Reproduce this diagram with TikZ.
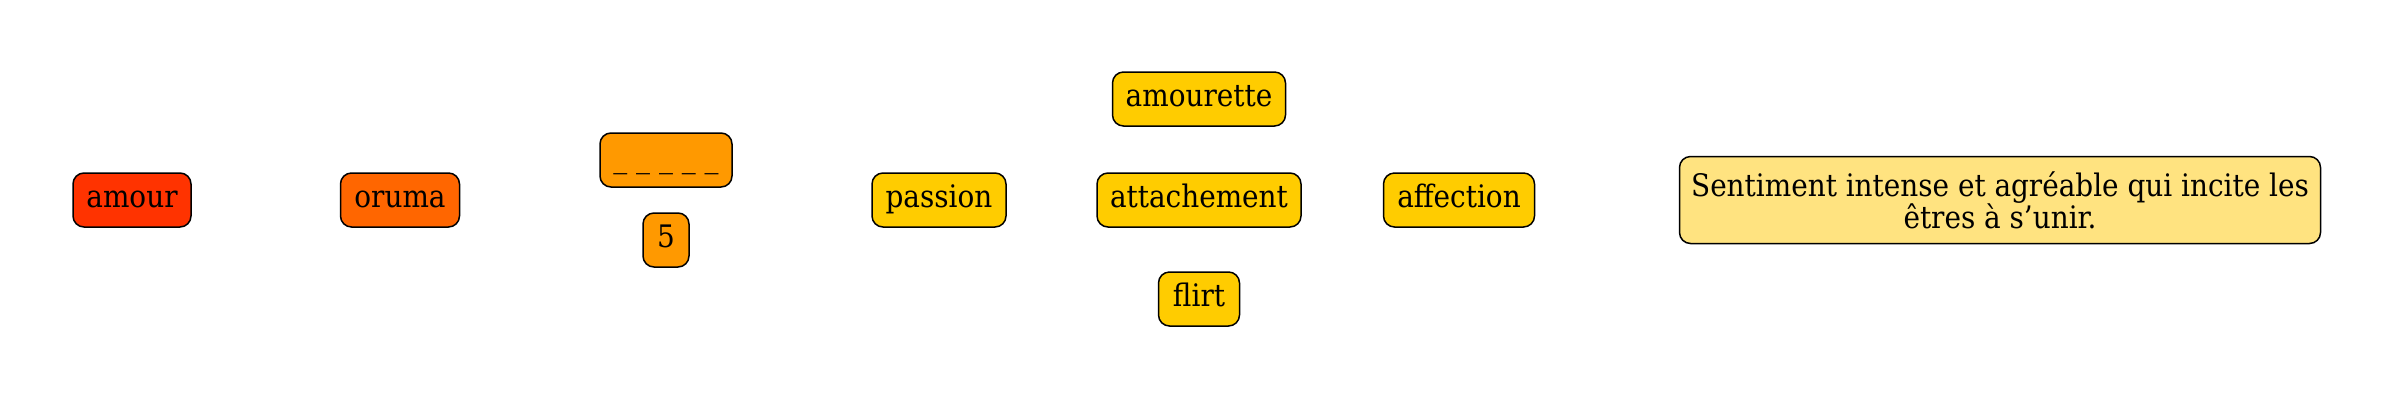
\documentclass[tikz,border=0pt]{standalone}
\usepackage{fontspec}
\setmainfont{DejaVu Serif Condensed}
\definecolor{cA}{HTML}{FF3300}
\definecolor{cB}{HTML}{FF6600}
\definecolor{cC}{HTML}{FF9900}
\definecolor{cD}{HTML}{FFCC00}
\definecolor{cE}{HTML}{FFE380}
\tikzset{
  box/.style={draw=black, line width=1.5pt, rounded corners=11pt, inner sep=0pt,
    minimum height=54pt, align=center, font=\fontsize{31}{37}\selectfont},
  word/.style={box, text height=23pt, text depth=7.5pt},
}
\begin{document}
\begin{tikzpicture}[x=1pt,y=-1pt]
\useasboundingbox (0,0) rectangle (2400,400);
\node[word, fill=cA, minimum width=118pt] (amour) at (132,200) {amour};
\node[word, fill=cB, minimum width=119pt] (oruma) at (400,200) {oruma};
\node[word, fill=cC, minimum width=132pt] (blank) at (666,160) {\_ \_ \_ \_ \_};
\node[word, fill=cC, minimum width=46pt, minimum height=54pt] (five) at (666,240) {5};
\node[word, fill=cD, minimum width=134pt] (passion) at (939,200) {passion};
\node[word, fill=cD, minimum width=173pt] (amourette) at (1199,99) {amourette};
\node[word, fill=cD, minimum width=204pt] (attachement) at (1199,200) {attachement};
\node[word, fill=cD, minimum width=81pt] (flirt) at (1199,299) {flirt};
\node[word, fill=cD, minimum width=151pt] (affection) at (1459,200) {affection};
\node[box, fill=cE, minimum width=641pt, minimum height=87pt, font=\fontsize{31}{32}\selectfont] (def) at (2000,200) {Sentiment intense et agréable qui incite les\\êtres à s’unir.};
\end{tikzpicture}
\end{document}
